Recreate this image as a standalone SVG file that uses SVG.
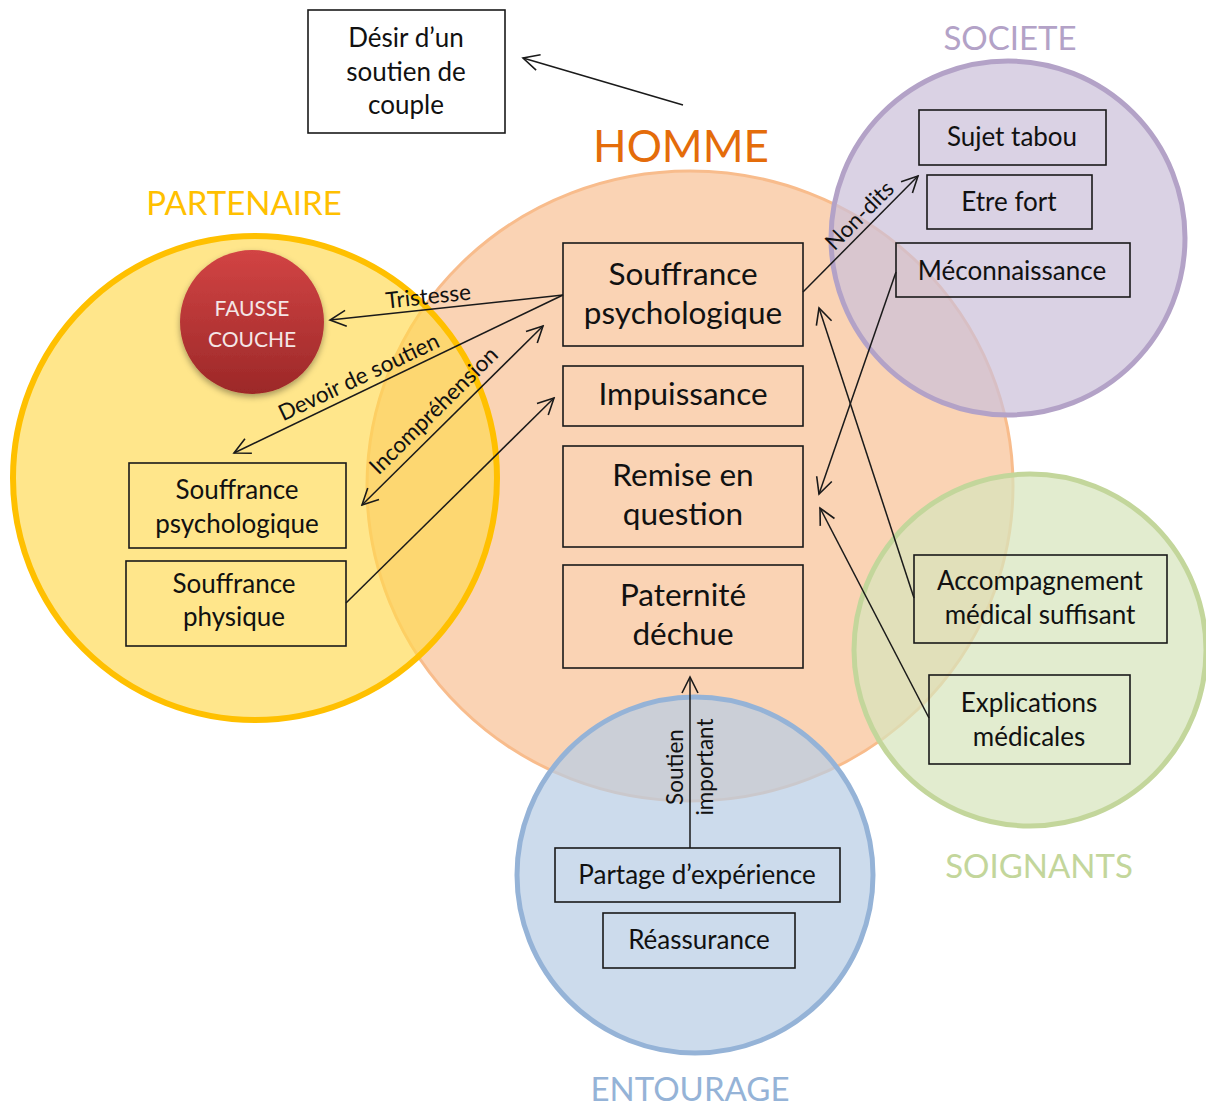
<svg xmlns="http://www.w3.org/2000/svg" width="1206" height="1106" viewBox="0 0 1206 1106">
<defs>
<style>
.box{fill:none;stroke:#1a1a1a;stroke-width:1.6}
.t{font-family:Lato,"Open Sans","Liberation Sans",sans-serif;fill:#111;text-anchor:middle}
.big{font-size:31.5px}
.sm{font-size:26px}
.lab{font-size:22.5px}
.title{font-family:Lato,"Open Sans","Liberation Sans",sans-serif;text-anchor:middle;font-size:33px}
.conn{fill:none;stroke:#1a1a1a;stroke-width:1.5}
</style>
<marker id="ah" viewBox="0 0 20 20" refX="18" refY="10" markerWidth="20" markerHeight="20" markerUnits="userSpaceOnUse" orient="auto-start-reverse">
<path d="M2,2 L18,10 L2,18" fill="none" stroke="#1a1a1a" stroke-width="1.6"/>
</marker>
<linearGradient id="red" x1="0" y1="0" x2="0" y2="1">
<stop offset="0" stop-color="#D24444"/>
<stop offset="1" stop-color="#9C2828"/>
</linearGradient>
<filter id="sh" x="-30%" y="-30%" width="160%" height="170%">
<feDropShadow dx="0" dy="3" stdDeviation="3" flood-color="#000" flood-opacity="0.35"/>
</filter>
</defs>

<g id="homme-circle">
<ellipse cx="690" cy="486" rx="323" ry="315" fill="#FAD3B4" stroke="#F8BC8C" stroke-width="3"/>
</g>
<g id="partenaire-circle">
<circle cx="255" cy="478" r="242" fill="#FFD84D" fill-opacity="0.65" stroke="#FFC000" stroke-width="6"/>
</g>
<g id="societe-circle">
<circle cx="1008" cy="238" r="177" fill="#CCC0DA" fill-opacity="0.72" stroke="#B3A2C7" stroke-width="5"/>
</g>
<g id="soignants-circle">
<circle cx="1030" cy="650" r="176" fill="#D7E4BD" fill-opacity="0.72" stroke="#C3D69B" stroke-width="5"/>
</g>
<g id="entourage-circle">
<circle cx="695" cy="875" r="178" fill="#B9CDE5" fill-opacity="0.72" stroke="#95B3D7" stroke-width="5"/>
</g>

<g id="titles">
<text class="title" x="681" y="162" fill="#E46C0A" style="font-size:44px">HOMME</text>
<text class="title" x="244" y="215" fill="#FFC000">PARTENAIRE</text>
<text class="title" x="1010" y="50" fill="#B3A2C7">SOCIETE</text>
<text class="title" x="1039" y="878" fill="#C3D69B">SOIGNANTS</text>
<text class="title" x="690" y="1101" fill="#95B3D7">ENTOURAGE</text>
</g>

<g id="desir">
<rect class="box" x="308" y="10" width="197" height="123"/>
<text class="t sm" x="406" y="47">Désir d’un</text>
<text class="t sm" x="406" y="81">soutien de</text>
<text class="t sm" x="406" y="114">couple</text>
</g>

<g id="fausse-couche">
<circle cx="252" cy="322" r="72" fill="url(#red)" filter="url(#sh)"/>
<text class="t" x="252" y="316" style="font-size:21px;fill:#F4E6E6">FAUSSE</text>
<text class="t" x="252" y="347" style="font-size:21px;fill:#F4E6E6">COUCHE</text>
</g>

<g id="part-souffrance-psy">
<rect class="box" x="129" y="463" width="217" height="85"/>
<text class="t sm" x="237" y="499">Souffrance</text>
<text class="t sm" x="237" y="533">psychologique</text>
</g>
<g id="part-souffrance-phys">
<rect class="box" x="126" y="561" width="220" height="85"/>
<text class="t sm" x="234" y="593">Souffrance</text>
<text class="t sm" x="234" y="626">physique</text>
</g>

<g id="homme-souffrance">
<rect class="box" x="563" y="243" width="240" height="103"/>
<text class="t big" x="683" y="285">Souffrance</text>
<text class="t big" x="683" y="324">psychologique</text>
</g>
<g id="homme-impuissance">
<rect class="box" x="563" y="366" width="240" height="60"/>
<text class="t big" x="683" y="405">Impuissance</text>
</g>
<g id="homme-remise">
<rect class="box" x="563" y="446" width="240" height="101"/>
<text class="t big" x="683" y="486">Remise en</text>
<text class="t big" x="683" y="525">question</text>
</g>
<g id="homme-paternite">
<rect class="box" x="563" y="565" width="240" height="103"/>
<text class="t big" x="683" y="606">Paternité</text>
<text class="t big" x="683" y="645">déchue</text>
</g>

<g id="soc-tabou">
<rect class="box" x="919" y="110" width="187" height="55"/>
<text class="t sm" x="1012" y="146">Sujet tabou</text>
</g>
<g id="soc-fort">
<rect class="box" x="927" y="175" width="165" height="54"/>
<text class="t sm" x="1009" y="211">Etre fort</text>
</g>
<g id="soc-meconnaissance">
<rect class="box" x="896" y="243" width="234" height="54"/>
<text class="t sm" x="1012" y="280">Méconnaissance</text>
</g>

<g id="soi-accompagnement">
<rect class="box" x="914" y="555" width="253" height="88"/>
<text class="t sm" x="1040" y="590">Accompagnement</text>
<text class="t sm" x="1040" y="624">médical suffisant</text>
</g>
<g id="soi-explications">
<rect class="box" x="929" y="675" width="201" height="89"/>
<text class="t sm" x="1029" y="712">Explications</text>
<text class="t sm" x="1029" y="746">médicales</text>
</g>

<g id="ent-partage">
<rect class="box" x="555" y="848" width="285" height="54"/>
<text class="t sm" x="697" y="884">Partage d’expérience</text>
</g>
<g id="ent-reassurance">
<rect class="box" x="603" y="913" width="192" height="55"/>
<text class="t sm" x="699" y="949">Réassurance</text>
</g>

<g id="connectors">
<line class="conn" x1="683" y1="105" x2="523" y2="58" marker-end="url(#ah)"/>
<line class="conn" x1="563" y1="295" x2="330" y2="320" marker-end="url(#ah)"/>
<line class="conn" x1="563" y1="295" x2="234" y2="453" marker-end="url(#ah)"/>
<line class="conn" x1="362" y1="505" x2="543" y2="326" marker-start="url(#ah)" marker-end="url(#ah)"/>
<line class="conn" x1="346" y1="603" x2="554" y2="398" marker-end="url(#ah)"/>
<line class="conn" x1="803" y1="292" x2="918" y2="176" marker-end="url(#ah)"/>
<line class="conn" x1="896" y1="272" x2="819" y2="494" marker-end="url(#ah)"/>
<line class="conn" x1="914" y1="598" x2="819" y2="308" marker-end="url(#ah)"/>
<line class="conn" x1="929" y1="718" x2="820" y2="508" marker-end="url(#ah)"/>
<line class="conn" x1="690" y1="848" x2="690" y2="677" marker-end="url(#ah)"/>
<text class="t lab" transform="translate(429,304) rotate(-6.1)">Tristesse</text>
<text class="t lab" transform="translate(362,384) rotate(-25.4)">Devoir de soutien</text>
<text class="t lab" transform="translate(439,416) rotate(-44.7)">Incompréhension</text>
<text class="t lab" transform="translate(865,221) rotate(-45.2)">Non-dits</text>
<text class="t lab" transform="translate(690,767) rotate(-90)"><tspan x="0" y="-7">Soutien</tspan><tspan x="0" y="23">important</tspan></text>
</g>
</svg>
